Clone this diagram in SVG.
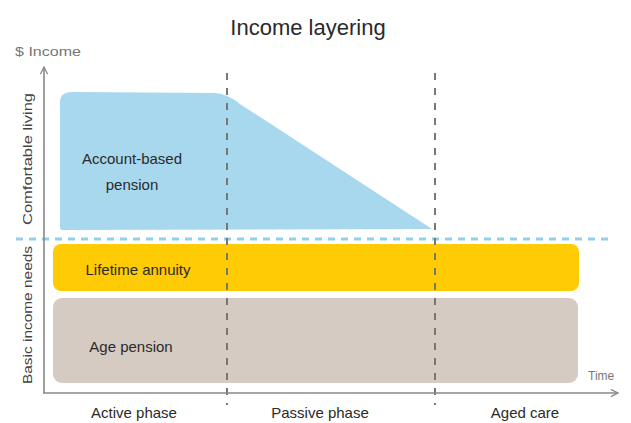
<svg xmlns="http://www.w3.org/2000/svg" width="631" height="423" viewBox="0 0 631 423">
<defs>
<style>
text{font-family:"Liberation Sans",Arial,sans-serif;fill:#2a2a2a}
.lbl{font-size:15px}
.axl{font-size:12px;fill:#777}
.side{font-size:13px;fill:#444}
.phase{font-size:15px}
.vdash{stroke:#777;stroke-width:2;stroke-dasharray:7 8;fill:none}
.axis{stroke:#888;stroke-width:1.6;fill:none}
</style>
<marker id="ah" viewBox="0 0 10 10" refX="9" refY="5" markerWidth="9" markerHeight="9" orient="auto" markerUnits="userSpaceOnUse">
<path d="M1,1 L9,5 L1,9" fill="none" stroke="#888" stroke-width="1.4"/>
</marker>
</defs>
<rect width="631" height="423" fill="#fff"/>
<text x="308" y="35" text-anchor="middle" style="font-size:22px">Income layering</text>
<text x="15" y="56" class="axl" textLength="66" lengthAdjust="spacingAndGlyphs">$ Income</text>
<g id="abp">
<path d="M60,102 Q60,92 72,92 L215,93 Q228,94 240,104 L432,229 L62,230 Q60,230 60,226 Z" fill="#a8d8ee"/>
<text x="132" y="164" text-anchor="middle" class="lbl">Account-based</text>
<text x="132" y="190" text-anchor="middle" class="lbl">pension</text>
</g>
<g id="annuity">
<rect x="53" y="244" width="526" height="47" rx="8" fill="#ffcb05"/>
<text x="138" y="275" text-anchor="middle" class="lbl">Lifetime annuity</text>
</g>
<g id="agepension">
<rect x="53" y="298" width="525" height="85" rx="9" fill="#d5cbc2"/>
<text x="131" y="352" text-anchor="middle" class="lbl">Age pension</text>
</g>
<g id="connectors">
<line x1="16" y1="239" x2="613" y2="239" stroke="#8fd0ea" stroke-width="3" stroke-dasharray="7 6"/>
<line x1="227" y1="73" x2="227" y2="405" class="vdash"/>
<line x1="435" y1="73" x2="435" y2="405" class="vdash"/>
<line x1="44" y1="393" x2="44" y2="67" class="axis" marker-end="url(#ah)"/>
<line x1="43" y1="393" x2="618" y2="393" class="axis" marker-end="url(#ah)"/>
</g>
<text x="588" y="380" class="axl">Time</text>
<text transform="translate(32,159) rotate(-90)" text-anchor="middle" class="side" textLength="132" lengthAdjust="spacingAndGlyphs">Comfortable living</text>
<text transform="translate(32,315) rotate(-90)" text-anchor="middle" class="side" textLength="138" lengthAdjust="spacingAndGlyphs">Basic income needs</text>
<text x="134" y="418" text-anchor="middle" class="phase">Active phase</text>
<text x="320" y="418" text-anchor="middle" class="phase">Passive phase</text>
<text x="525" y="418" text-anchor="middle" class="phase">Aged care</text>
</svg>
